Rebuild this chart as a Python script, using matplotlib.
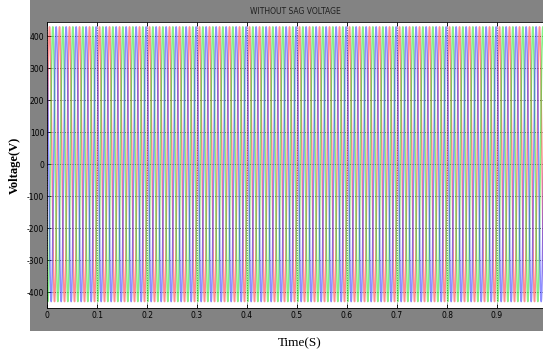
import numpy as np
import matplotlib
matplotlib.use("Agg")
import matplotlib.pyplot as plt
from matplotlib.patches import Rectangle

# Signal parameters
amplitude_v = 430.0          # peak phase voltage (V)
frequency_hz = 50.0          # supply frequency
phase_deg = [0.0, -120.0, 120.0]
phase_colors = ["#ff2020", "#10e010", "#2020ff"]
t_end = 1.0
sample_step = 1e-4

x_ticks = [0, 0.1, 0.2, 0.3, 0.4, 0.5, 0.6, 0.7, 0.8, 0.9]
x_tick_labels = ["0", "0.1", "0.2", "0.3", "0.4", "0.5", "0.6", "0.7", "0.8", "0.9"]
y_ticks = [-400, -300, -200, -100, 0, 100, 200, 300, 400]
y_tick_labels = ["-400", "-300", "-200", "-100", "0", "100", "200", "300", "400"]

W, H = 543, 356
fig = plt.figure(figsize=(W / 100, H / 100), dpi=100)
fig.patch.set_facecolor("white")

# MATLAB-style grey figure panel
fig.add_artist(Rectangle((30 / W, (H - 331) / H), 1 - 30 / W, 331 / H,
                         transform=fig.transFigure, facecolor="#838383",
                         edgecolor="none", zorder=0))

ax = fig.add_axes([47 / W, (H - 308) / H, 500 / W, 286 / H])
ax.set_facecolor("white")
ax.set_zorder(1)

t = np.arange(0, t_end + sample_step, sample_step)
for ph, c in zip(phase_deg, phase_colors):
    v = amplitude_v * np.sin(2 * np.pi * frequency_hz * t + np.deg2rad(ph))
    ax.plot(t, v, color=c, lw=1.1, alpha=0.5)

ax.set_xlim(0, 1.0)
ax.set_ylim(-450, 445)
ax.set_xticks(x_ticks)
ax.set_xticklabels(x_tick_labels)
ax.set_yticks(y_ticks)
ax.set_yticklabels(y_tick_labels)
ax.tick_params(direction="in", length=3, width=0.6, labelsize=5.5,
               top=True, right=True, colors="black", pad=2)
ax.grid(True, linestyle=(0, (1, 2)), color="#404040", linewidth=0.6)
for s in ax.spines.values():
    s.set_linewidth(0.6)

fig.text(295 / W, 1 - 12 / H, "WITHOUT SAG VOLTAGE", ha="center", va="center",
         fontsize=5.5, color="#202020", fontfamily="DejaVu Sans")
fig.text(15 / W, 1 - 165 / H, "Voltage(V)", rotation=90, ha="center", va="center",
         fontsize=9, fontweight="bold", fontfamily="Liberation Serif")
fig.text(300 / W, 1 - 343 / H, "Time(S)", ha="center", va="center",
         fontsize=9.5, fontfamily="Liberation Serif")

fig.savefig("out.png", dpi=100)
